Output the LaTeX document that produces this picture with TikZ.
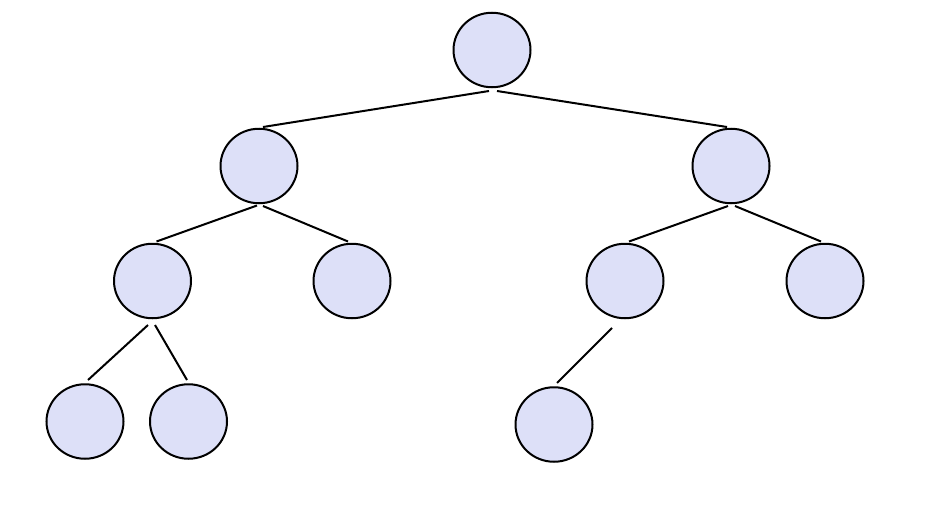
\documentclass[tikz,border=0pt]{standalone}
\usetikzlibrary{shapes.geometric,calc}
\definecolor{nodefill}{RGB}{221,224,248}
\tikzset{
  treenode/.style={ellipse, draw=black, fill=nodefill, line width=2pt,
    minimum width=77pt, minimum height=74.5pt, inner sep=0pt},
  treeedge/.style={draw=black, line width=2pt}
}
\begin{document}
\begin{tikzpicture}[x=1pt,y=-1pt]
\useasboundingbox (0,0) rectangle (952,519);
\node[treenode] (root) at (492,50) {};
\node[treenode] (A) at (259,166) {};
\node[treenode] (B) at (731,166) {};
\node[treenode] (C) at (152.5,281) {};
\node[treenode] (D) at (352,281) {};
\node[treenode] (E) at (625,281) {};
\node[treenode] (F) at (825,281) {};
\node[treenode] (G) at (85,421.5) {};
\node[treenode] (H) at (188.5,421.5) {};
\node[treenode] (I) at (554,424.5) {};
\draw[treeedge] ($(root)+(-3,41)$) -- ($(A)+(4,-39)$);
\draw[treeedge] ($(root)+(5,41)$) -- ($(B)+(-4,-39)$);
\draw[treeedge] ($(A)+(-2,39.5)$) -- ($(C)+(4,-39.5)$);
\draw[treeedge] ($(A)+(4,40)$) -- ($(D)+(-4,-39.5)$);
\draw[treeedge] ($(B)+(-3,40)$) -- ($(E)+(4,-39.5)$);
\draw[treeedge] ($(B)+(4,40)$) -- ($(F)+(-4,-39.5)$);
\draw[treeedge] ($(C)+(-4.5,44)$) -- ($(G)+(3,-41.5)$);
\draw[treeedge] ($(C)+(2.5,44)$) -- ($(H)+(-1.5,-41.5)$);
\draw[treeedge] ($(E)+(-13,47)$) -- ($(I)+(3,-41.5)$);
\end{tikzpicture}
\end{document}
